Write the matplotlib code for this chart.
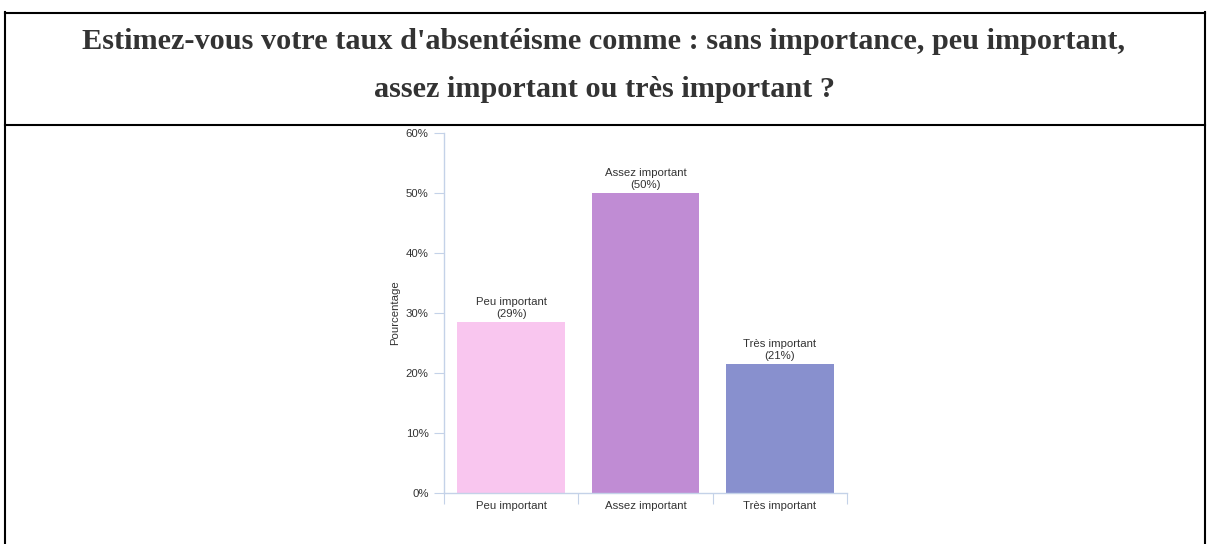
import matplotlib.pyplot as plt
from matplotlib.lines import Line2D

# data
categories = ['Peu important', 'Assez important', 'Très important']
values = [28.57, 50.0, 21.43]
shown = ['29%', '50%', '21%']
colors = ['#F9C6EF', '#C08CD4', '#8890CE']
y_ticks = [0, 10, 20, 30, 40, 50, 60]

title_lines = ["Estimez-vous votre taux d'absentéisme comme : sans importance, peu important,",
               "assez important ou très important ?"]

W, H = 1208, 544
fig = plt.figure(figsize=(W / 100, H / 100), dpi=100)
fig.patch.set_facecolor('white')

# table frame around the title
def px_line(x0, y0, x1, y1, lw=1.5):
    fig.add_artist(Line2D([x0 / W, x1 / W], [1 - y0 / H, 1 - y1 / H],
                          color='black', lw=lw, transform=fig.transFigure))

px_line(5, 12.5, 1205, 12.5)
px_line(5, 124.5, 1205, 124.5)
px_line(5, 12, 5, 544)
px_line(1205, 12, 1205, 544)

for txt, base in zip(title_lines, [49, 97]):
    fig.text(0.5, 1 - base / H, txt, ha='center', va='baseline',
             family='Liberation Serif', weight='bold', fontsize=21.8, color='#333333')

# chart
ax = fig.add_axes([444 / W, 51 / H, 403 / W, 360 / H])
x = range(len(categories))
ax.bar(x, values, width=0.8, color=colors, edgecolor='none')

fs = 8.2
for i, (v, s) in enumerate(zip(values, shown)):
    ax.text(i, v + 0.5, categories[i] + '\n(' + s + ')', ha='center', va='bottom',
            fontsize=fs, family='Liberation Sans', color='#333333', linespacing=1.25)

axis_col = '#C4D2E8'
ax.set_xlim(-0.5, 2.5)
ax.set_ylim(0, 60)
ax.set_yticks(y_ticks)
ax.set_yticklabels([f'{t}%' for t in y_ticks])
ax.set_xticks([-0.5, 0.5, 1.5, 2.5], minor=False)
ax.set_xticklabels([])
ax.set_xticks(list(x), minor=True)
ax.set_xticklabels(categories, minor=True)
ax.tick_params(axis='x', which='minor', length=0, pad=6)
ax.tick_params(axis='x', which='major', length=8, color=axis_col, direction='out')
ax.tick_params(axis='y', length=7, color=axis_col, pad=4)
for lab in ax.get_xticklabels(minor=True) + ax.get_yticklabels():
    lab.set_fontsize(fs)
    lab.set_family('Liberation Sans')
    lab.set_color('#333333')

for side in ['top', 'right']:
    ax.spines[side].set_visible(False)
for side in ['left', 'bottom']:
    ax.spines[side].set_color(axis_col)
    ax.spines[side].set_linewidth(1)

ax.set_ylabel('Pourcentage', fontsize=8.2, family='Liberation Sans', color='#333333')
ax.yaxis.label.set_va('center')
ax.yaxis.set_label_coords((395 - 444) / 403, 0.5)

fig.savefig('out.png', dpi=100)
